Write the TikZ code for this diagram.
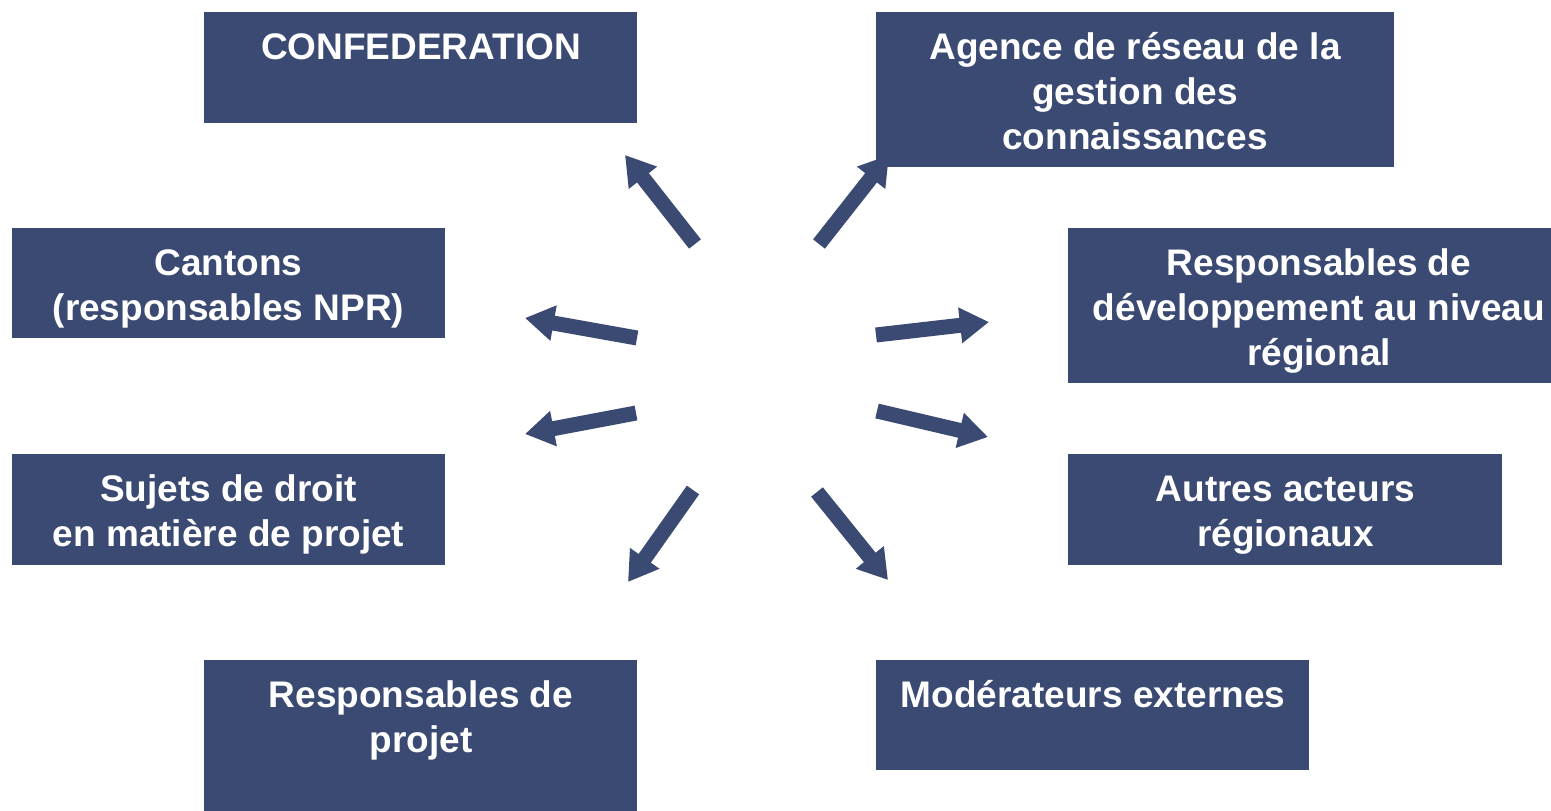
\documentclass[tikz,border=0pt]{standalone}
\usepackage{fontspec}
\setmainfont{Liberation Sans}
\usetikzlibrary{arrows.meta}
\definecolor{navy}{HTML}{3B4A72}
\begin{document}
\begin{tikzpicture}[x=1pt,y=-1pt,
  box/.style={fill=navy, draw=none, inner sep=0pt, anchor=north west},
  lbl/.style={text=white, font=\fontsize{37}{45}\selectfont\bfseries, align=center, anchor=north, inner sep=0pt},
  blockarrow/.style={draw=navy, line width=15pt, -{Triangle[length=29pt,width=34pt]}}]
\useasboundingbox (0,0) rectangle (1551,811);
% arrows (drawn first so boxes cover them)
\coordinate (t1) at (695,244); \coordinate (h1) at (625,155);
\coordinate (t2) at (819,244); \coordinate (h2) at (889,155);
\coordinate (t3) at (637,338); \coordinate (h3) at (525,318);
\coordinate (t4) at (636,413); \coordinate (h4) at (525,434);
\coordinate (t5) at (876,335); \coordinate (h5) at (989,322);
\coordinate (t6) at (877,411); \coordinate (h6) at (988,437);
\coordinate (t7) at (693,490); \coordinate (h7) at (628,582);
\coordinate (t8) at (817,492); \coordinate (h8) at (888,580);
\foreach \i in {1,...,8} \draw[blockarrow] (t\i) -- (h\i);
% boxes
\node[box, minimum width=433pt, minimum height=111pt] (conf) at (204,12) {};
\node[box, minimum width=518pt, minimum height=155pt] (agence) at (876,12) {};
\node[box, minimum width=433pt, minimum height=110pt] (cantons) at (12,228) {};
\node[box, minimum width=483pt, minimum height=155pt] (respdev) at (1068,228) {};
\node[box, minimum width=433pt, minimum height=111pt] (sujets) at (12,454) {};
\node[box, minimum width=434pt, minimum height=111pt] (autres) at (1068,454) {};
\node[box, minimum width=433pt, minimum height=151pt] (resppro) at (204,660) {};
\node[box, minimum width=433pt, minimum height=110pt] (moder) at (876,660) {};
% labels
\node[lbl] (confT) at (421,23) {\rule{0pt}{36pt}CONFEDERATION};
\node[lbl] (agenceT) at (1135,23) {\rule{0pt}{36pt}Agence de réseau de la\\gestion des\\connaissances};
\node[lbl] (cantonsT) at (228.5,239) {\rule{0pt}{36pt}Cantons\\(responsables NPR)};
\node[lbl] (respdevT) at (1319,239) {\rule{0pt}{36pt}Responsables de\\développement au niveau\\régional};
\node[lbl] (sujetsT) at (228.5,465) {\rule{0pt}{36pt}Sujets de droit\\en matière de projet};
\node[lbl] (autresT) at (1285.5,465) {\rule{0pt}{36pt}Autres acteurs\\régionaux};
\node[lbl] (respproT) at (421,671) {\rule{0pt}{36pt}Responsables de\\projet};
\node[lbl] (moderT) at (1093,671) {\rule{0pt}{36pt}Modérateurs externes};
\end{tikzpicture}
\end{document}
